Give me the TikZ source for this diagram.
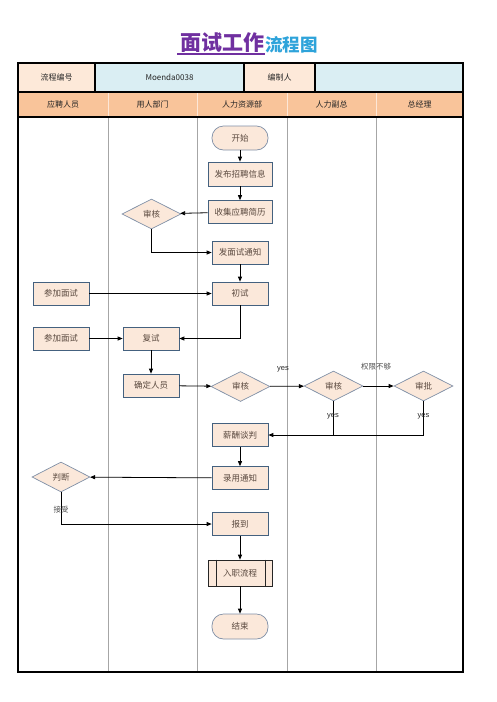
\documentclass[tikz,border=0pt]{standalone}
\usepackage{fontspec}
\usetikzlibrary{shapes.geometric,arrows.meta}
\newfontfamily\cjk{Noto Sans CJK SC}
\newfontfamily\lsans{Liberation Sans}
\definecolor{peach}{HTML}{FDE9D9}
\definecolor{lblue}{HTML}{DAEEF3}
\definecolor{orangeh}{HTML}{F9C49A}
\definecolor{boxfill}{HTML}{FBE8DA}
\definecolor{boxline}{HTML}{44617F}
\definecolor{dialine}{HTML}{7F8FA6}
\definecolor{laneline}{HTML}{A6A6A6}
\definecolor{txt}{HTML}{5B4A40}
\definecolor{titlepurple}{HTML}{7030A0}
\definecolor{titleblue}{HTML}{2EA3DA}
\begin{document}
\begin{tikzpicture}[x=1pt,y=-1pt,
  box/.style={draw=boxline, fill=boxfill, line width=0.7pt, minimum width=56pt, minimum height=23pt, inner sep=0pt, font=\cjk\fontsize{8.5}{10}\selectfont, text=txt},
  term/.style={box, rounded corners=11.5pt, draw=dialine},
  dia/.style={diamond, draw=dialine, fill=boxfill, line width=0.7pt, minimum width=59pt, minimum height=30pt, inner sep=0pt, font=\cjk\fontsize{8.5}{10}\selectfont, text=txt},
  arr/.style={draw=black, line width=0.8pt, -{Triangle[length=5pt,width=4pt]}},
  ln/.style={draw=black, line width=0.8pt},
  hdr/.style={font=\cjk\fontsize{8}{10}\selectfont, text=black!85, inner sep=0pt},
  lbl/.style={font=\cjk\fontsize{7.5}{9}\selectfont, text=black!70, inner sep=0pt},
  ylbl/.style={font=\lsans\fontsize{7.5}{9}\selectfont, text=black!85, inner sep=0pt}
]
\useasboundingbox (0,0) rectangle (496,702);
% title
\node[anchor=base east, inner sep=0pt, font=\cjk\bfseries\fontsize{21}{21}\selectfont, text=titlepurple] (t1) at (265,50) {面试工作};
\node[anchor=base west, inner sep=0pt, font=\cjk\bfseries\fontsize{17.5}{18}\selectfont, text=titleblue] (t2) at (265,51) {流程图};
\draw[titlepurple, line width=1.2pt] (177,54) -- (265,54);
% header row 1
\fill[peach] (18,63) rectangle (95,92);
\fill[lblue] (95,63) rectangle (244,92);
\fill[peach] (244,63) rectangle (315,92);
\fill[lblue] (315,63) rectangle (463,92);
% header row 2
\fill[orangeh] (18,92) rectangle (463,117);
\foreach \x in {108,197,287,376} { \draw[white!60!orangeh, line width=0.6pt] (\x,92) -- (\x,117); }
\foreach \x in {108,197,287,376} { \draw[laneline, line width=0.6pt] (\x,117) -- (\x,672); }
\draw[black, line width=1.5pt] (18,92) -- (463,92);
\draw[black, line width=1.5pt] (95,63) -- (95,92) (244,63) -- (244,92) (315,63) -- (315,92);
\draw[black, line width=1.5pt] (18,117) -- (463,117);
\draw[black, line width=2pt] (18,63) rectangle (463,672);
\node[hdr] (h1) at (56.5,77.5) {流程编号};
\node[hdr] (h2) at (169.5,77.5) {Moenda0038};
\node[hdr] (h3) at (279.5,77.5) {编制人};
\node[hdr] (c1) at (63,104.5) {应聘人员};
\node[hdr] (c2) at (152.5,104.5) {用人部门};
\node[hdr] (c3) at (242,104.5) {人力资源部};
\node[hdr] (c4) at (331.5,104.5) {人力副总};
\node[hdr] (c5) at (419.5,104.5) {总经理};
% nodes
\node[term, minimum height=24pt] (start) at (240,138) {开始};
\node[box, minimum width=64pt, minimum height=24pt] (fabu) at (240,174) {发布招聘信息};
\node[box, minimum width=64pt] (shouji) at (240,212) {收集应聘简历};
\node[dia] (sh1) at (151.5,214) {审核};
\node[box] (tongzhi) at (240,252.5) {发面试通知};
\node[box] (chushi) at (240,293.5) {初试};
\node[box] (cj1) at (61,293.5) {参加面试};
\node[box] (cj2) at (61,338.5) {参加面试};
\node[box] (fushi) at (151,338.5) {复试};
\node[box] (queding) at (151,385.5) {确定人员};
\node[dia] (sh2) at (240.5,386.5) {审核};
\node[dia] (sh3) at (333.5,386) {审核};
\node[dia] (shenpi) at (423.5,386) {审批};
\node[box] (xinchou) at (240,435) {薪酬谈判};
\node[box] (luyong) at (240,478) {录用通知};
\node[dia, minimum width=58pt] (pd) at (61,477) {判断};
\node[box] (baodao) at (240,524) {报到};
\node[box, draw=black!85, minimum width=64pt, minimum height=26pt] (ruzhi) at (240,573) {入职流程};
\draw[black!85, line width=0.7pt] ([xshift=9pt]ruzhi.north west) -- ([xshift=9pt]ruzhi.south west)
  ([xshift=-7pt]ruzhi.north east) -- ([xshift=-7pt]ruzhi.south east);
\node[term, minimum height=25pt] (end) at (240,626.5) {结束};
% connectors
\draw[arr] (start) -- (fabu);
\draw[arr] (fabu) -- (shouji);
\draw[arr] (shouji) -- (sh1);
\draw[arr] (sh1.south) |- (tongzhi.west);
\draw[arr] (tongzhi) -- (chushi);
\draw[arr] (cj1) -- (chushi);
\draw[arr] (chushi.south) |- (fushi.east);
\draw[arr] (cj2) -- (fushi);
\draw[arr] (fushi) -- (queding);
\draw[arr] (queding) -- (sh2);
\draw[arr] (sh2) -- (sh3);
\draw[arr] (sh3) -- (shenpi);
\coordinate (jn) at (sh3.south |- xinchou.east);
\draw[ln] (shenpi.south) |- (jn);
\draw[arr] (sh3.south) |- (xinchou.east);
\draw[arr] (xinchou) -- (luyong);
\draw[arr] (luyong) -- (pd);
\draw[arr] (pd.south) |- (baodao.west);
\draw[arr] (baodao) -- (ruzhi);
\draw[arr] (ruzhi) -- (end);
% labels
\node[ylbl] (y1) at (283,369) {yes};
\node[lbl] (qx) at (376,367) {权限不够};
\node[ylbl] (y2) at (333,416) {yes};
\node[ylbl] (y3) at (423.5,416) {yes};
\node[lbl] (js) at (61,510) {接受};
\end{tikzpicture}
\end{document}
